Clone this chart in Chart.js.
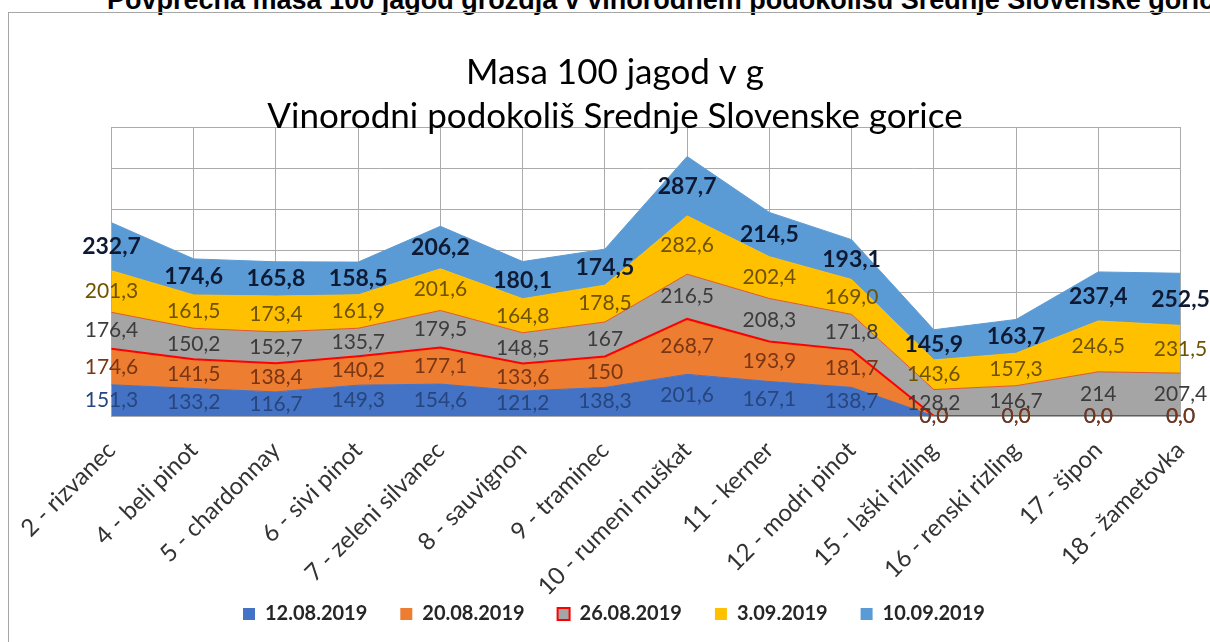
<!DOCTYPE html>
<html>
<head>
<meta charset="utf-8">
<script src="https://cdn.jsdelivr.net/npm/chart.js@4.4.1/dist/chart.umd.min.js"></script>
<style>
  html, body { margin: 0; padding: 0; background: #fff; overflow: hidden; }
  body { width: 1210px; height: 642px; position: relative; }
  #heading { position: absolute; left: 107px; top: -13px; white-space: nowrap; line-height: 27px;
             font-family: "Liberation Sans", Arial, sans-serif; font-weight: bold; font-size: 27px; color: #000; }
  #frame { position: absolute; left: 8px; top: 12px; width: 1202px; height: 630px;
           border-left: 1px solid #a6a6a6; border-top: 1px solid #a6a6a6; }
  #chart { position: absolute; left: 9px; top: 13px; }
</style>
</head>
<body>
<div id="heading">Povprečna masa 100 jagod grozdja v vinorodnem podokolišu Srednje Slovenske gorice</div>
<div id="frame"></div>
<canvas id="chart" width="1201" height="629"></canvas>
<script>
const categories = ['2 - rizvanec', '4 - beli pinot', '5 - chardonnay', '6 - sivi pinot',
    '7 - zeleni silvanec', '8 - sauvignon', '9 - traminec', '10 - rumeni muškat', '11 - kerner',
    '12 - modri pinot', '15 - laški rizling', '16 - renski rizling', '17 - šipon', '18 - žametovka'];

// values as printed in the chart (decimal comma)
const s12_08 = ['151,3', '133,2', '116,7', '149,3', '154,6', '121,2', '138,3', '201,6', '167,1', '138,7', '0,0', '0,0', '0,0', '0,0'];
const s20_08 = ['174,6', '141,5', '138,4', '140,2', '177,1', '133,6', '150', '268,7', '193,9', '181,7', '0,0', '0,0', '0,0', '0,0'];
const s26_08 = ['176,4', '150,2', '152,7', '135,7', '179,5', '148,5', '167', '216,5', '208,3', '171,8', '128,2', '146,7', '214', '207,4'];
const s03_09 = ['201,3', '161,5', '173,4', '161,9', '201,6', '164,8', '178,5', '282,6', '202,4', '169,0', '143,6', '157,3', '246,5', '231,5'];
const s10_09 = ['232,7', '174,6', '165,8', '158,5', '206,2', '180,1', '174,5', '287,7', '214,5', '193,1', '145,9', '163,7', '237,4', '252,5'];

const toNum = s => parseFloat(s.replace(',', '.'));
const FONT = 'Lato';

function series(label, texts, color, extra) {
    return Object.assign({
        label: label,
        data: texts.map(toNum),
        texts: texts,
        backgroundColor: color,
        borderColor: color,
        borderWidth: 1,
        fill: '-1',
        pointRadius: 0,
        tension: 0,
        labelColor: '#333',
        labelFont: 'normal 21px ' + FONT
    }, extra);
}

const datasets = [
    series('12.08.2019', s12_08, '#4472C4', { fill: 'origin', labelColor: '#26467e' }),
    series('20.08.2019', s20_08, '#ED7D31', { borderColor: '#FF0000', borderWidth: 2, labelColor: '#7a3512' }),
    series('26.08.2019', s26_08, '#A5A5A5', { borderColor: '#e2562d', legendBorder: '#FF0000', labelColor: '#3c3c3c' }),
    series('3.09.2019', s03_09, '#FFC000', { labelColor: '#6e5200' }),
    series('10.09.2019', s10_09, '#5B9BD5', { labelColor: '#0e1a33', labelFont: 'bold 23px ' + FONT })
];

// value labels in the middle of each stacked band
const bandLabels = {
    id: 'bandLabels',
    afterDatasetsDraw(chart) {
        const ctx = chart.ctx;
        const y = chart.scales.y;
        const base = categories.map(() => 0);
        ctx.save();
        ctx.textAlign = 'center';
        ctx.textBaseline = 'middle';
        chart.data.datasets.forEach((ds, di) => {
            const meta = chart.getDatasetMeta(di);
            ctx.font = ds.labelFont;
            ctx.fillStyle = ds.labelColor;
            ds.data.forEach((v, i) => {
                ctx.fillText(ds.texts[i], meta.data[i].x, y.getPixelForValue(base[i] + v / 2));
                base[i] += v;
            });
        });
        ctx.restore();
    }
};

// legend sits left of centre and overlaps the tall rotated labels' box
const legendPlace = {
    id: 'legendPlace',
    afterLayout(chart) {
        const lg = chart.legend;
        const pad = lg.options.labels.padding;
        const start = (lg.left + pad + lg.right - lg.lineWidths[0]) / 2;
        const dx = 234 - start;
        lg.left += dx;
        lg.right += dx;
        const h = lg.height;
        lg.top = 601 - pad - 10;
        lg.bottom = lg.top + h;
    }
};

new Chart(document.getElementById('chart'), {
    type: 'line',
    data: { labels: categories, datasets: datasets },
    plugins: [bandLabels, legendPlace],
    options: {
        responsive: false,
        animation: false,
        events: [],
        layout: { padding: { left: 40.5, right: 29.5, top: 0, bottom: -50 } },
        scales: {
            x: {
                offset: false,
                grid: { color: '#ababab', drawTicks: false },
                border: { color: '#ababab' },
                ticks: {
                    autoSkip: false, minRotation: 45, maxRotation: 45, padding: 20,
                    color: '#333', font: { family: FONT, size: 24 }
                },
                afterFit(scale) {
                    scale.height = 213;
                    scale.paddingLeft = 0;
                    scale.paddingRight = 0;
                }
            },
            y: {
                stacked: true,
                min: 0, max: 1400,
                grid: { color: '#ababab', drawTicks: false },
                border: { color: '#ababab' },
                ticks: { stepSize: 200, display: false },
                afterFit(scale) { scale.width = 62; }
            }
        },
        plugins: {
            tooltip: { enabled: false },
            title: {
                display: true,
                text: ['Masa 100 jagod v g', 'Vinorodni podokoliš Srednje Slovenske gorice'],
                color: '#000',
                font: { family: FONT, size: 35, weight: 'normal', lineHeight: 1.25 },
                padding: { top: 38, bottom: -11.5 }
            },
            legend: {
                position: 'bottom',
                labels: {
                    color: '#262626',
                    font: { family: FONT, size: 20, weight: 'bold' },
                    boxWidth: 12, boxHeight: 12, padding: 33,
                    generateLabels(chart) {
                        const items = Chart.defaults.plugins.legend.labels.generateLabels(chart);
                        items.forEach((it, i) => {
                            const ds = chart.data.datasets[i];
                            it.fillStyle = ds.backgroundColor;
                            it.strokeStyle = ds.legendBorder || ds.backgroundColor;
                            it.lineWidth = ds.legendBorder ? 2 : 0;
                        });
                        return items;
                    }
                }
            }
        }
    }
});
</script>
</body>
</html>
